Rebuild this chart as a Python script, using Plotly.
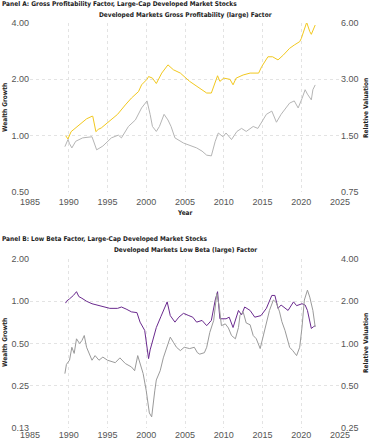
import math
import plotly.graph_objects as go

# ---------------- Panel A data ----------------
a_wealth_year = [1989.6, 1989.9, 1990.3, 1990.9, 1991.5, 1992.3, 1993.0, 1993.1, 1993.5, 1993.8,
                 1994.2, 1994.9, 1996.0, 1996.3, 1997.3, 1998.1, 1999.0, 1999.4, 2000.1, 2000.3,
                 2000.8, 2001.3, 2002.0, 2002.6, 2002.8, 2003.5, 2004.4, 2005.6, 2006.9, 2007.8,
                 2008.4, 2008.9, 2009.2, 2009.5, 2010.0, 2010.8, 2011.2, 2011.6, 2012.5, 2013.4,
                 2014.5, 2014.9, 2015.7, 2016.3, 2017.0, 2017.7, 2018.5, 2019.1, 2019.8, 2020.0,
                 2020.5, 2020.7, 2021.1, 2021.3, 2021.8]
a_wealth = [1.00, 0.96, 1.05, 1.10, 1.15, 1.23, 1.27, 1.27, 1.05, 1.08,
            1.10, 1.16, 1.27, 1.30, 1.46, 1.59, 1.72, 1.87, 2.00, 2.07,
            2.03, 1.90, 2.16, 2.34, 2.39, 2.25, 2.16, 1.95, 1.80, 1.69,
            1.69, 1.95, 2.09, 1.95, 2.03, 2.00, 1.87, 2.03, 2.11, 2.16,
            2.16, 2.34, 2.64, 2.64, 2.54, 2.70, 2.93, 3.05, 3.18, 3.30,
            3.90, 4.03, 3.60, 3.48, 3.90]

a_val_year = [1989.5, 1989.9, 1990.1, 1990.4, 1990.9, 1991.8, 1993.0, 1993.6, 1994.4, 1995.5,
              1996.4, 1996.8, 1997.7, 1998.6, 1999.4, 2000.1, 2000.5, 2000.8, 2001.3, 2001.7,
              2002.3, 2002.8, 2003.2, 2003.7, 2004.8, 2005.9, 2006.5, 2007.2, 2007.8, 2008.4,
              2008.9, 2009.3, 2009.9, 2010.3, 2011.0, 2011.7, 2012.3, 2012.9, 2013.8, 2014.4,
              2014.9, 2015.5, 2016.2, 2016.8, 2017.4, 2018.5, 2019.1, 2019.6, 2020.1, 2020.5,
              2020.8, 2021.3, 2021.5, 2021.8]
a_val = [1.31, 1.43, 1.36, 1.29, 1.40, 1.46, 1.48, 1.26, 1.32, 1.46,
         1.51, 1.46, 1.68, 1.82, 2.11, 2.30, 1.95, 1.68, 1.58, 1.68,
         1.95, 1.82, 1.68, 1.46, 1.37, 1.32, 1.29, 1.24, 1.18, 1.17,
         1.40, 1.55, 1.48, 1.55, 1.43, 1.58, 1.64, 1.58, 1.68, 1.64,
         1.77, 1.95, 2.03, 1.77, 1.95, 2.24, 2.30, 2.11, 2.37, 2.64,
         2.50, 2.33, 2.64, 2.80]

# ---------------- Panel B data ----------------
b_wealth_year = [1989.6, 1989.7, 1990.1, 1990.6, 1991.0, 1991.3, 1991.7, 1992.3, 1993.0, 1993.7,
                 1994.5, 1995.3, 1996.3, 1996.8, 1997.4, 1998.1, 1998.8, 1999.2, 1999.8, 2000.3,
                 2000.5, 2000.9, 2001.3, 2001.9, 2002.7, 2003.1, 2003.7, 2004.2, 2004.8, 2005.5,
                 2006.0, 2006.5, 2007.2, 2007.8, 2008.4, 2008.9, 2009.2, 2009.5, 2010.3, 2010.7,
                 2011.2, 2011.9, 2012.3, 2012.7, 2013.4, 2014.0, 2014.8, 2015.5, 2016.2, 2016.6,
                 2017.0, 2017.4, 2018.3, 2019.0, 2019.4, 2020.1, 2020.5, 2020.8, 2021.1, 2021.3,
                 2021.6, 2021.8]
b_wealth = [0.97, 1.00, 1.04, 1.10, 1.17, 1.08, 1.05, 1.00, 0.96, 0.94,
            0.91, 0.89, 0.89, 0.91, 0.88, 0.84, 0.83, 0.71, 0.62, 0.39,
            0.45, 0.55, 0.65, 0.78, 0.99, 0.79, 0.71, 0.77, 0.82, 0.79,
            0.77, 0.71, 0.73, 0.67, 0.73, 1.02, 1.17, 0.75, 0.75, 0.77,
            0.65, 0.86, 0.80, 0.91, 0.86, 0.77, 0.79, 0.89, 1.10, 1.10,
            0.89, 0.94, 0.86, 0.99, 0.93, 0.96, 0.94, 0.86, 0.69, 0.64,
            0.66, 0.67]

b_val_year = [1989.5, 1989.7, 1990.1, 1990.4, 1990.7, 1991.0, 1991.4, 1991.7, 1992.0, 1992.3,
              1993.0, 1993.4, 1993.9, 1994.4, 1995.0, 1996.0, 1996.6, 1997.3, 1998.1, 1998.5,
              1998.9, 1999.2, 1999.6, 2000.0, 2000.4, 2000.7, 2000.9, 2001.1, 2001.3, 2001.8,
              2002.2, 2002.7, 2003.1, 2003.5, 2003.9, 2004.4, 2004.9, 2005.6, 2006.2, 2006.6,
              2006.9, 2007.5, 2007.8, 2008.2, 2008.7, 2009.1, 2009.4, 2009.7, 2010.2, 2010.6,
              2011.0, 2011.5, 2011.9, 2012.1, 2012.5, 2012.9, 2013.4, 2013.8, 2014.2, 2014.7,
              2015.1, 2015.5, 2015.9, 2016.4, 2016.8, 2017.2, 2017.5, 2017.9, 2018.5, 2018.9,
              2019.4, 2019.8, 2020.1, 2020.4, 2020.8, 2021.1, 2021.5, 2021.8]
b_val = [0.61, 0.71, 0.76, 0.94, 0.85, 1.08, 1.00, 1.05, 1.14, 0.94,
         0.76, 0.82, 0.76, 0.80, 0.76, 0.73, 0.79, 0.72, 0.68, 0.64,
         0.82, 0.72, 0.61, 0.46, 0.32, 0.30, 0.39, 0.46, 0.55, 0.64,
         0.79, 0.94, 1.11, 1.02, 0.94, 0.89, 0.94, 0.92, 0.94, 0.86,
         0.84, 0.86, 0.94, 1.20, 1.46, 2.27, 1.87, 1.34, 1.38, 1.29,
         1.14, 1.08, 1.30, 1.59, 1.68, 1.40, 1.36, 1.14, 1.08, 0.92,
         1.14, 1.38, 1.72, 2.04, 1.95, 1.68, 1.43, 1.24, 0.94, 0.89,
         0.82, 0.94, 1.31, 2.04, 2.40, 2.14, 1.72, 1.31]

x_ticks = [1985, 1990, 1995, 2000, 2005, 2010, 2015, 2020, 2025]
a_left_ticks = [0.5, 1, 2, 4]
a_left_text = ["0.50", "1.00", "2.00", "4.00"]
a_right_ticks = [0.75, 1.5, 3, 6]
a_right_text = ["0.75", "1.50", "3.00", "6.00"]
b_left_ticks = [0.125, 0.25, 0.5, 1, 2]
b_left_text = ["0.13", "0.25", "0.50", "1.00", "2.00"]
b_right_ticks = [0.25, 0.5, 1, 2, 4]
b_right_text = ["0.25", "0.50", "1.00", "2.00", "4.00"]

YELLOW = "#F2C81E"
GRAY_A = "#B5B5B5"
GRAY_B = "#9A9A9A"
PURPLE = "#6A2A8E"
GRID = "#E3E3E3"
TICKC = "#555555"
LBL = "DejaVu Sans Condensed, Liberation Sans, sans-serif"
TICKF = dict(family="Liberation Sans, sans-serif", size=9, color=TICKC)

fig = go.Figure()
fig.add_trace(go.Scatter(x=a_val_year, y=a_val, mode="lines", line=dict(color=GRAY_A, width=1),
                         xaxis="x", yaxis="y2", showlegend=False))
fig.add_trace(go.Scatter(x=a_wealth_year, y=a_wealth, mode="lines", line=dict(color=YELLOW, width=1),
                         xaxis="x", yaxis="y", showlegend=False))
fig.add_trace(go.Scatter(x=b_val_year, y=b_val, mode="lines", line=dict(color=GRAY_B, width=1),
                         xaxis="x2", yaxis="y4", showlegend=False))
fig.add_trace(go.Scatter(x=b_wealth_year, y=b_wealth, mode="lines", line=dict(color=PURPLE, width=1),
                         xaxis="x2", yaxis="y3", showlegend=False))

W, H = 371, 440
ml, mr, mt, mb = 30, 31, 23, 12
ph = H - mt - mb
pw = W - ml - mr


def py(pix):
    return (H - mb - pix) / ph


xcommon = dict(range=[1985, 2025], tickvals=x_ticks, showgrid=True, gridcolor=GRID, griddash="dot",
               gridwidth=1, zeroline=False, showline=False, ticks="", tickfont=TICKF,
               automargin=False)
ycommon = dict(type="log", zeroline=False, showline=False, ticks="", tickfont=TICKF, automargin=False)
fig.update_layout(
    width=W, height=H,
    margin=dict(l=ml, r=mr, t=mt, b=mb),
    paper_bgcolor="white", plot_bgcolor="white",
    hovermode=False,
    xaxis=dict(domain=[0, 1], anchor="y", ticklabelstandoff=3, **xcommon),
    xaxis2=dict(domain=[0, 1], anchor="y3", ticklabelstandoff=0, **xcommon),
    yaxis=dict(domain=[py(192), 1], range=[math.log10(0.5), math.log10(4)],
               tickvals=a_left_ticks, ticktext=a_left_text, showgrid=True, gridcolor=GRID,
               griddash="dot", anchor="x", **ycommon),
    yaxis2=dict(overlaying="y", side="right", range=[math.log10(0.75), math.log10(6)],
                tickvals=a_right_ticks, ticktext=a_right_text, showgrid=False, anchor="x", **ycommon),
    yaxis3=dict(domain=[0, py(259)], range=[math.log10(0.125), math.log10(2)],
                tickvals=b_left_ticks, ticktext=b_left_text, showgrid=True, gridcolor=GRID,
                griddash="dot", anchor="x2", **ycommon),
    yaxis4=dict(overlaying="y3", side="right", range=[math.log10(0.25), math.log10(4)],
                tickvals=b_right_ticks, ticktext=b_right_text, showgrid=False, anchor="x2", **ycommon),
)


def ann_px(text, px, pyy, xanchor="center", angle=0, size=6.5):
    fig.add_annotation(text="<b>%s</b>" % text,
                       x=(px - ml) / pw, y=(H - mb - pyy) / ph,
                       xref="paper", yref="paper", showarrow=False,
                       xanchor=xanchor, yanchor="middle", textangle=angle,
                       font=dict(family=LBL, size=size, color="#222"))


ann_px("Panel A: Gross Profitability Factor, Large-Cap Developed Market Stocks", 0, 4, xanchor="left")
ann_px("Developed Markets Gross Profitability (large) Factor", 185, 15)
ann_px("Year", 185, 213)
ann_px("Wealth Growth", 5, 108, angle=-90)
ann_px("Relative Valuation", 366, 108, angle=-90)
ann_px("Panel B: Low Beta Factor, Large-Cap Developed Market Stocks", 0, 239, xanchor="left")
ann_px("Developed Markets Low Beta (large) Factor", 185, 250)
ann_px("Wealth Growth", 5, 343, angle=-90)
ann_px("Relative Valuation", 366, 343, angle=-90)

fig.write_html("out.html", config={"displayModeBar": False},
               post_script="document.body.style.margin='0';document.body.style.overflow='hidden';")
